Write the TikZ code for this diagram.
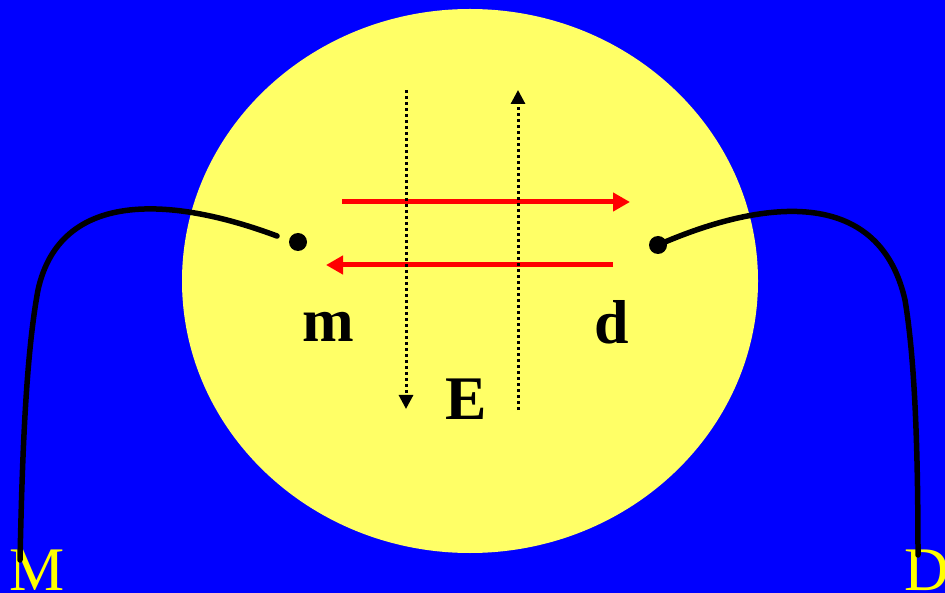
\documentclass[tikz,border=0pt]{standalone}
\usepackage{fontspec}
\setmainfont{Liberation Serif}
\usetikzlibrary{arrows.meta}
\definecolor{SlideBlue}{HTML}{0000FF}
\definecolor{PadYellow}{HTML}{FFFF66}
\definecolor{FlowRed}{HTML}{FF0000}
\definecolor{PinYellow}{HTML}{FFFF00}

\begin{document}
\begin{tikzpicture}[x=1pt,y=-1pt,
    wire/.style={line width=5.5pt,line cap=round},
    probe/.style={circle,fill=black,inner sep=0pt,minimum size=18pt},
    flow/.style={-{Triangle[length=17pt,width=18pt]},line width=5pt,FlowRed},
    field/.style={-{Triangle[length=14pt,width=14pt]},line width=3pt,
                  dash pattern=on 3pt off 3pt},
    lbl/.style={font=\fontsize{62}{62}\selectfont\bfseries,inner sep=0pt,anchor=base},
    pin/.style={font=\fontsize{62}{62}\selectfont,text=PinYellow,inner sep=0pt,
                anchor=base west},
  ]
  \fill[SlideBlue] (0,0) rectangle (945,593);
  \useasboundingbox (0,0) rectangle (945,593);
  \fill[PadYellow] (470,281) ellipse [x radius=288, y radius=272];

  % electrodes and labels
  \node[probe] (mdot) at (298,242) {};
  \node[probe] (ddot) at (658,245) {};
  \node[lbl] (mlbl) at (328,342) {m};
  \node[lbl] (dlbl) at (612,344) {d};
  \node[lbl] (elbl) at (466,420) {E};
  \node[pin] (Mpin) at (9,590) {M};
  \node[pin] (Dpin) at (904,590) {D};

  % wire ends
  \coordinate (mend) at (277,236);
  \coordinate (Mend) at (20,560);
  \coordinate (Dend) at (918,555);

  \draw[wire] (mend) .. controls (170,196) and (60,190) .. (38,290)
                     .. controls (25,360) and (22,470) .. (Mend);
  \draw[wire] (ddot.center) .. controls (770,196) and (880,190) .. (905,300)
                            .. controls (915,360) and (918,450) .. (Dend);

  % currents
  \coordinate (r1a) at (342,202);
  \coordinate (r1b) at (630,202);
  \coordinate (r2a) at (613,265);
  \coordinate (r2b) at (326,265);
  \draw[flow] (r1a) -- (r1b);
  \draw[flow] (r2a) -- (r2b);

  % field lines
  \coordinate (e1a) at (406,90);
  \coordinate (e1b) at (406,409);
  \coordinate (e2a) at (518,410);
  \coordinate (e2b) at (518,90);
  \draw[field] (e1a) -- (e1b);
  \draw[field] (e2a) -- (e2b);
\end{tikzpicture}
\end{document}
